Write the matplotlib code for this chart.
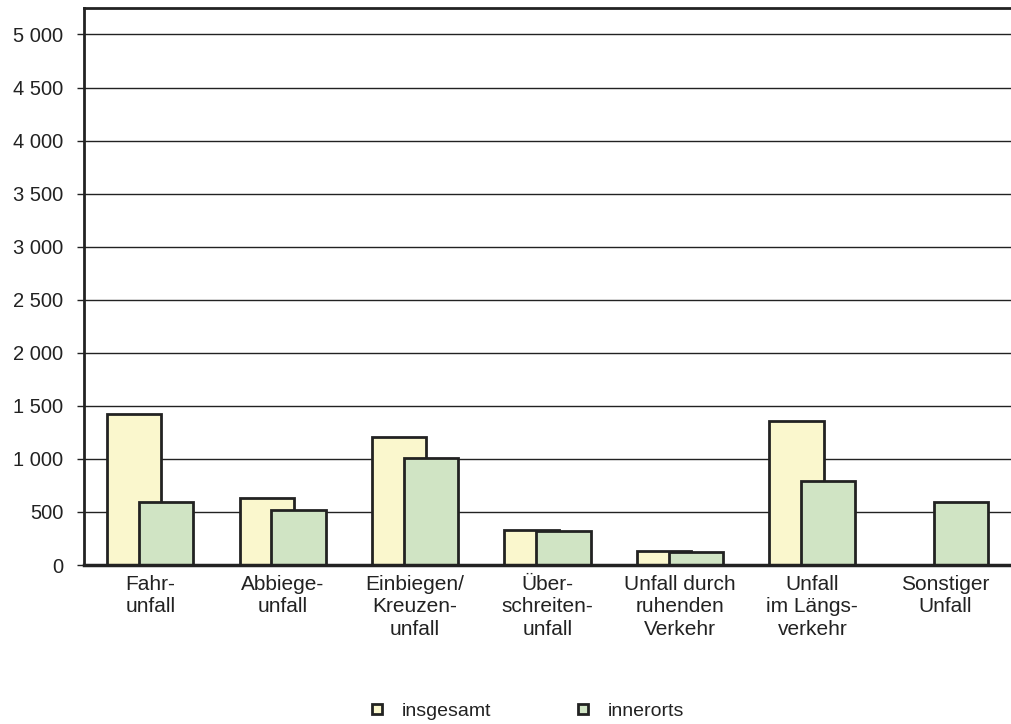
import matplotlib
matplotlib.use("Agg")
import matplotlib.pyplot as plt
import numpy as np
from matplotlib.lines import Line2D

plt.rcParams['font.family'] = ['Liberation Sans', 'DejaVu Sans']

categories = ["Fahr-\nunfall", "Abbiege-\nunfall", "Einbiegen/\nKreuzen-\nunfall",
              "Über-\nschreiten-\nunfall", "Unfall durch\nruhenden\nVerkehr",
              "Unfall\nim Längs-\nverkehr", "Sonstiger\nUnfall"]
insgesamt = [1420, 630, 1205, 330, 132, 1355, 0]
innerorts = [595, 520, 1012, 322, 124, 792, 598]
series_names = ["insgesamt", "innerorts"]
yticks = list(range(0, 5001, 500))

c_ins = "#FAF7CD"
c_inn = "#D0E4C4"
edge = "#222222"
txt = "#222222"

fig = plt.figure(figsize=(10.11, 7.24), dpi=100)
ax = fig.add_axes([0.0831, 0.2196, 0.9169, 0.7694])

x = np.arange(len(categories))
w = 0.41
off = 0.12
ins_vals = [v if v > 0 else np.nan for v in insgesamt]
ax.bar(x - off, ins_vals, width=w, color=c_ins, edgecolor=edge, linewidth=2, zorder=3)
ax.bar(x + off, innerorts, width=w, color=c_inn, edgecolor=edge, linewidth=2, zorder=4)

ax.set_xlim(-0.5, 6.5)
ax.set_ylim(0, 5250)
ax.set_yticks(yticks)
ax.set_yticklabels([f"{v:,}".replace(",", " ") for v in yticks], fontsize=14.5, color=txt)
ax.yaxis.grid(True, color="#222222", linewidth=1, zorder=0)
ax.set_axisbelow(True)
ax.tick_params(axis='y', length=5, width=1, color="#222222", pad=10)
ax.tick_params(axis='x', length=0, pad=7)
ax.set_xticks(x)
ax.set_xticklabels(categories, fontsize=15, color=txt, linespacing=1.24, va='top')

ax.spines['right'].set_visible(False)
ax.spines['left'].set_linewidth(2)
ax.spines['left'].set_color("#222222")
ax.spines['top'].set_linewidth(2)
ax.spines['top'].set_color("#222222")
ax.spines['bottom'].set_linewidth(2.5)
ax.spines['bottom'].set_color("#222222")
ax.spines['bottom'].set_zorder(5)

handles = [Line2D([], [], marker='s', linestyle='None', markersize=7, markerfacecolor=c_ins,
                  markeredgecolor=edge, markeredgewidth=2),
           Line2D([], [], marker='s', linestyle='None', markersize=7, markerfacecolor=c_inn,
                  markeredgecolor=edge, markeredgewidth=2)]
leg = fig.legend(handles, series_names, loc='center', bbox_to_anchor=(0.52, 0.018), ncol=2,
                 frameon=False, fontsize=14, columnspacing=4.2, handletextpad=0.8, handlelength=1)
for t in leg.get_texts():
    t.set_color(txt)

fig.savefig("out.png", dpi=100)
